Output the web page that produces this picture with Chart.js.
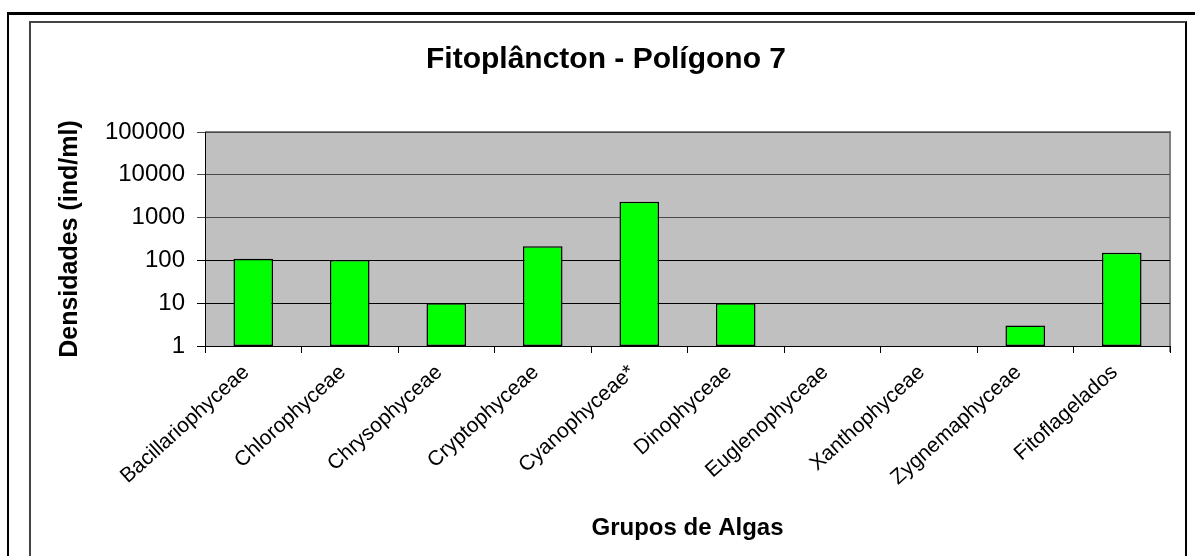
<!DOCTYPE html>
<html lang="pt">
<head>
    <meta charset="UTF-8">
    <title>Fitoplâncton - Polígono 7</title>
    <script src="https://cdn.jsdelivr.net/npm/chart.js"></script>
    <style>
        html, body { margin: 0; padding: 0; background: #fff; }
        .wrap { position: relative; width: 1195px; height: 556px; overflow: hidden; }
        canvas { position: absolute; left: 0; top: 0; }
        .outer { position: absolute; left: 7px; top: 12px; right: 0; bottom: -5px;
                 border-top: 3px solid #000; border-left: 2px solid #000; pointer-events: none; }
        .inner { position: absolute; left: 29px; top: 21px; width: 1154px; bottom: -5px;
                 border-top: 2px solid #444; border-left: 2px solid #444; border-right: 2px solid #000; pointer-events: none; }
    </style>
</head>
<body>
<div class="wrap">
    <canvas id="grafico" width="1195" height="556"></canvas>
    <div class="outer"></div>
    <div class="inner"></div>
</div>
<script>
    const grupos = ['Bacillariophyceae', 'Chlorophyceae', 'Chrysophyceae', 'Cryptophyceae', 'Cyanophyceae*',
        'Dinophyceae', 'Euglenophyceae', 'Xanthophyceae', 'Zygnemaphyceae', 'Fitoflagelados'];
    const densidades = [109, 102, 10, 215, 2355, 10, null, null, 3, 151];
    const yTicks = [1, 10, 100, 1000, 10000, 100000];

    Chart.defaults.font.family = 'Arial, "Liberation Sans", sans-serif';
    Chart.defaults.color = '#000';

    // gray plot area + gray top/right border, like the Excel chart
    const plotArea = {
        id: 'plotArea',
        beforeDraw(chart) {
            const { ctx, chartArea: a } = chart;
            ctx.save();
            ctx.fillStyle = '#C0C0C0';
            ctx.fillRect(a.left, a.top, a.right - a.left, a.bottom - a.top);
            ctx.strokeStyle = '#808080';
            ctx.lineWidth = 2;
            ctx.beginPath();
            ctx.moveTo(a.left, a.top);
            ctx.lineTo(a.right, a.top);
            ctx.lineTo(a.right, a.bottom + 6);
            ctx.stroke();
            ctx.restore();
        }
    };

    new Chart(document.getElementById('grafico'), {
        type: 'bar',
        data: {
            labels: grupos,
            datasets: [{
                label: 'Densidades',
                data: densidades,
                backgroundColor: '#00FF00',
                borderColor: '#000',
                borderWidth: 1.5,
                borderSkipped: false,
                categoryPercentage: 1,
                barPercentage: 0.41
            }]
        },
        options: {
            responsive: false,
            animation: false,
            devicePixelRatio: 1,
            layout: { padding: { left: 42, right: 25, top: 0, bottom: 0 } },
            plugins: {
                legend: { display: false },
                tooltip: { enabled: false },
                title: {
                    display: true,
                    text: 'Fitoplâncton - Polígono 7',
                    color: '#000',
                    font: { size: 30, weight: 'bold' },
                    padding: { top: 42, bottom: 54 }
                }
            },
            scales: {
                x: {
                    afterFit: s => { s.height = 210; },
                    grid: { drawOnChartArea: false, offset: true, tickLength: 7, color: '#000' },
                    border: { color: '#000', width: 1 },
                    ticks: {
                        autoSkip: false, maxRotation: 42, minRotation: 42,
                        padding: 7, labelOffset: -7, font: { size: 21 }
                    },
                    title: {
                        display: true,
                        text: 'Grupos de Algas',
                        font: { size: 24, weight: 'bold' },
                        padding: { top: 0, bottom: 13 }
                    }
                },
                y: {
                    type: 'logarithmic',
                    min: 1,
                    max: 100000,
                    afterFit: s => { s.width = 163; },
                    afterBuildTicks: s => { s.ticks = yTicks.map(v => ({ value: v })); },
                    grid: {
                        tickLength: 8,
                        color: c => (c.tick && c.tick.value >= 1000 ? '#4a4a4a' : '#000')
                    },
                    border: { color: '#000', width: 1 },
                    ticks: { padding: 12, font: { size: 24 }, callback: v => String(v) },
                    title: {
                        display: true,
                        text: 'Densidades (ind/ml)',
                        font: { size: 25, weight: 'bold' },
                        padding: { top: 13, bottom: 0 }
                    }
                }
            }
        },
        plugins: [plotArea]
    });
</script>
</body>
</html>
